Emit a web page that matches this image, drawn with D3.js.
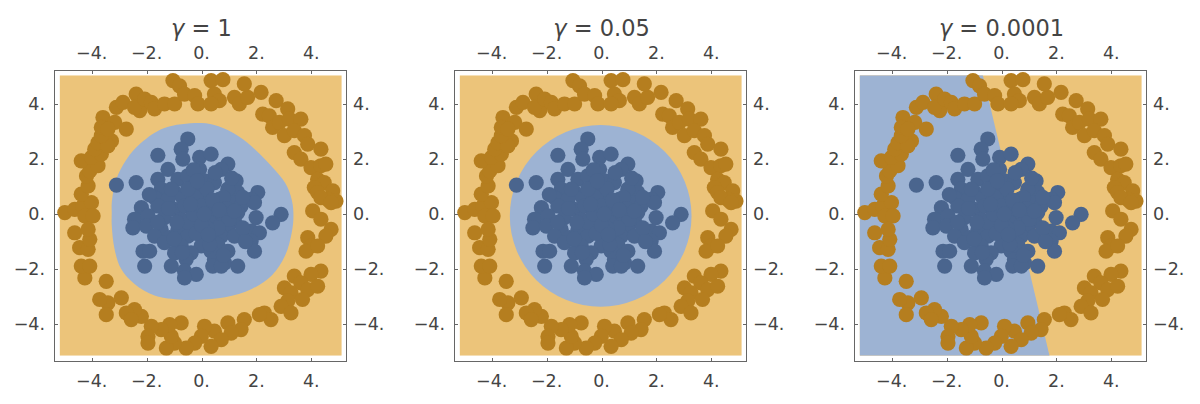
<!DOCTYPE html>
<html><head><meta charset="utf-8">
<script src="https://cdn.jsdelivr.net/npm/d3@7"></script>
<style>
body{margin:0;background:#fff;}
text{font-family:"DejaVu Sans",sans-serif;fill:#444;}
</style></head>
<body><svg id="c" width="1200" height="404"></svg>
<script>
// ---------- data ----------
const titles = ["1", "0.05", "0.0001"];
const tickValues = [-4, -2, 0, 2, 4];
const tickLabels = ["\u22124.", "\u22122.", "0.", "2.", "4."];

const outerX = [-4.98,-4.62,-4.32,-4.01,-4.25,-3.95,-4.62,-4.38,-4.13,-4.19,-4.07,-3.77,-4.38,-4.01,-3.65,-3.89,-3.77,-3.53,-3.28,-3.41,-3.65,-3.59,-3.65,-3.16,-3.41,-2.74,-3.10,-2.86,-2.38,-2.25,-2.44,-2.07,-1.83,-1.71,-1.35,-0.98,-1.04,-0.80,-0.62,-0.25,-0.13,0.35,0.78,0.47,0.65,0.35,1.20,1.38,1.68,1.56,2.17,2.72,2.23,2.47,2.59,2.84,3.14,3.20,3.62,3.02,3.38,3.75,3.87,3.38,3.62,4.35,3.99,4.35,4.53,4.23,4.47,4.78,4.11,4.23,4.59,4.90,4.35,4.72,4.05,4.35,4.72,4.53,3.87,3.99,3.81,4.23,4.35,3.99,3.38,3.62,3.02,3.26,3.87,4.23,3.68,3.14,2.90,2.29,2.53,2.11,3.26,1.56,1.44,0.96,1.08,0.47,0.72,0.35,0.11,-0.01,-0.25,-0.56,-0.98,-1.28,-1.10,-0.74,-1.16,-1.47,-1.83,-1.95,-1.95,-2.19,-2.44,-2.74,-2.56,-2.92,-3.41,-3.71,-3.47,-3.47,-4.25,-4.38,-4.07,-4.44,-4.13,-4.07,-4.13];
const outerY = [0.05,0.17,0.29,0.41,-0.07,-0.07,-0.68,0.72,1.02,1.38,1.56,1.75,1.93,2.05,2.17,2.35,2.59,2.78,2.65,2.47,2.84,3.50,3.14,3.32,3.08,3.08,3.87,4.05,4.35,3.75,3.87,4.17,4.05,3.81,3.99,3.99,4.84,4.65,4.35,4.29,3.99,4.84,4.87,4.35,4.11,3.99,4.23,3.99,4.23,4.72,4.41,4.11,3.62,3.56,3.14,3.32,3.81,3.44,3.44,2.84,3.02,2.84,2.53,2.23,1.99,2.35,1.68,1.75,1.81,1.26,1.14,0.84,0.96,0.78,0.53,0.47,0.59,0.41,0.11,-0.19,-0.56,-0.80,-0.86,-1.16,-1.35,-1.16,-2.07,-2.19,-2.25,-2.50,-2.68,-2.86,-2.74,-2.62,-3.10,-3.16,-3.35,-3.59,-3.83,-3.65,-3.59,-3.83,-4.19,-3.95,-4.32,-4.25,-4.56,-4.80,-4.07,-4.44,-4.68,-4.86,-4.68,-4.86,-4.44,-3.95,-4.01,-4.19,-4.07,-4.44,-4.68,-3.71,-3.47,-3.59,-3.83,-3.04,-3.22,-3.10,-3.65,-2.44,-2.32,-1.89,-1.89,-1.22,-1.28,-0.92,-0.56];

const innerX = [-0.50,-0.74,-1.59,-0.68,-0.07,0.35,-1.22,-0.07,0.96,0.72,-1.59,-2.38,-3.10,-0.86,-0.50,0.11,1.26,-1.47,-0.98,-0.25,0.47,2.05,1.81,1.32,0.96,-1.71,-1.22,-0.68,-0.01,0.65,1.08,1.44,1.93,-2.19,-1.59,-0.98,-0.38,0.23,0.84,1.32,1.99,2.90,2.59,-2.44,-1.95,-1.35,-0.74,-0.01,0.59,1.20,-2.50,-2.01,-1.47,-0.86,-0.25,0.35,0.96,1.81,2.11,-1.71,-1.16,-0.50,0.11,0.72,1.20,1.81,-1.35,-0.74,-0.01,0.59,0.96,1.93,-2.13,-1.89,-0.98,-0.38,0.35,-0.56,0.47,0.84,1.32,-2.07,-1.10,-0.62,-0.19,0.41,0.72,-0.62,0.50,-0.50,0.30,-0.20,0.80,-0.60,1.00,0.20,
  -0.30,0.00,0.40,-0.90,0.60,-0.20,0.20,-0.50,0.90,1.50,-1.20,0.00,0.50,-0.30,1.10,-1.00,0.30,1.50,-0.70,0.80,-1.60,0.10,-0.40,0.65,1.20,-1.10,0.25,-0.15,1.60,-1.90];
const innerY = [2.72,2.35,2.13,1.99,2.05,2.17,1.62,1.62,1.81,1.62,1.26,1.14,1.05,1.26,1.38,1.20,1.20,0.90,0.78,1.02,1.14,0.78,0.53,0.78,0.90,0.59,0.53,0.59,0.65,0.53,0.41,0.29,0.41,0.23,0.29,0.17,0.23,0.29,0.11,0.05,-0.13,-0.01,-0.32,-0.19,-0.07,-0.13,-0.19,-0.13,-0.19,-0.25,-0.50,-0.44,-0.56,-0.56,-0.44,-0.50,-0.56,-0.62,-0.68,-0.80,-0.86,-0.80,-0.86,-0.80,-0.80,-0.98,-1.04,-1.16,-1.16,-1.10,-1.35,-1.35,-1.35,-1.35,-1.41,-1.41,-1.35,-1.65,-1.65,-1.77,-1.89,-1.89,-1.89,-2.07,-2.19,-1.89,-1.89,-2.32,0.10,-0.30,-0.30,0.60,0.60,0.30,-0.20,0.90,
  0.00,0.30,0.50,-0.30,-0.50,-0.70,-0.50,0.90,0.20,-0.50,0.20,-0.40,1.50,1.60,1.30,-0.90,-1.10,0.60,-1.40,-1.50,-0.30,0.00,0.35,0.15,0.10,0.90,-0.75,1.20,-1.00,0.70];

// decision region for gamma = 1 (boundary of inner class)
const blobX = [-0.01,0.62,1.35,1.96,2.56,3.05,3.29,3.35,3.29,3.05,2.56,1.83,0.86,-0.11,-0.74,-1.71,-2.44,-2.93,-3.17,-3.27,-3.27,-3.27,-3.11,-2.74,-2.20,-1.35];
const blobY = [3.30,3.18,2.82,2.33,1.72,1.12,0.51,-0.07,-0.66,-1.50,-2.23,-2.72,-3.02,-3.11,-3.11,-2.96,-2.54,-1.99,-1.26,-0.41,0.07,0.39,1.24,1.97,2.58,3.12];
// gamma = 0.05: circular region
const circleCenter = [-0.03, -0.07];
const circleRadius = 3.31;
// gamma = 0.0001: linear boundary (top point, bottom point)
const lineX = [-0.68, 1.75];
const lineY = [5.03, -5.14];
// plotted data range
const rangeX = [-5.17, 5.11];
const rangeY = [-5.14, 5.03];

// ---------- styles ----------
const C = {
  bgOuter: "#ecc47a", bgInner: "#9db3d3",
  ptOuter: "#b57e1f", ptInner: "#4a658e",
  frame: "#666"
};
const R = 7.6;

const svg = d3.select("#c");

for (let p = 0; p < 3; p++) {
  const dx = 400 * p;
  const x = d3.scaleLinear().domain([-4, 4]).range([91.7 + dx, 311.3 + dx]);
  const y = d3.scaleLinear().domain([-4, 4]).range([324.3, 103.7]);
  const fx0 = 54 + dx, fx1 = 346 + dx, fy0 = 70, fy1 = 361;
  const g = svg.append("g");

  const clipId = "clip" + p;
  g.append("clipPath").attr("id", clipId).append("rect")
    .attr("x", x(rangeX[0])).attr("y", y(rangeY[1]))
    .attr("width", x(rangeX[1]) - x(rangeX[0])).attr("height", y(rangeY[0]) - y(rangeY[1]));

  const bg = g.append("g").attr("clip-path", `url(#${clipId})`);
  bg.append("rect")
    .attr("x", x(rangeX[0])).attr("y", y(rangeY[1]))
    .attr("width", x(rangeX[1]) - x(rangeX[0])).attr("height", y(rangeY[0]) - y(rangeY[1]))
    .attr("fill", C.bgOuter);

  if (p === 0) {
    const pts = blobX.map((v, i) => [x(v), y(blobY[i])]);
    bg.append("path").attr("d", d3.line().curve(d3.curveCatmullRomClosed.alpha(0.5))(pts))
      .attr("fill", C.bgInner);
  } else if (p === 1) {
    bg.append("circle").attr("cx", x(circleCenter[0])).attr("cy", y(circleCenter[1]))
      .attr("r", x(circleRadius) - x(0)).attr("fill", C.bgInner);
  } else {
    const poly = [[x(rangeX[0]), y(lineY[0])], [x(lineX[0]), y(lineY[0])],
                  [x(lineX[1]), y(lineY[1])], [x(rangeX[0]), y(lineY[1])]];
    bg.append("path").attr("d", d3.line()(poly) + "Z").attr("fill", C.bgInner);
  }

  // points
  g.append("g").selectAll("circle").data(outerX.map((v, i) => [v, outerY[i]])).join("circle")
    .attr("cx", d => x(d[0])).attr("cy", d => y(d[1])).attr("r", R).attr("fill", C.ptOuter);
  g.append("g").selectAll("circle").data(innerX.map((v, i) => [v, innerY[i]])).join("circle")
    .attr("cx", d => x(d[0])).attr("cy", d => y(d[1])).attr("r", R).attr("fill", C.ptInner);

  // frame
  g.append("rect").attr("x", fx0 + 0.5).attr("y", fy0 + 0.5)
    .attr("width", fx1 - fx0).attr("height", fy1 - fy0)
    .attr("fill", "none").attr("stroke", C.frame).attr("stroke-width", 1);

  // ticks
  const tl = 4;
  tickValues.forEach((t, i) => {
    const px = Math.round(x(t)) + 0.5, py = Math.round(y(t)) + 0.5;
    g.append("line").attr("x1", px).attr("x2", px).attr("y1", fy0).attr("y2", fy0 + tl).attr("stroke", C.frame);
    g.append("line").attr("x1", px).attr("x2", px).attr("y1", fy1 + 1).attr("y2", fy1 + 1 - tl).attr("stroke", C.frame);
    g.append("line").attr("y1", py).attr("y2", py).attr("x1", fx0).attr("x2", fx0 + tl).attr("stroke", C.frame);
    g.append("line").attr("y1", py).attr("y2", py).attr("x1", fx1 + 1).attr("x2", fx1 + 1 - tl).attr("stroke", C.frame);
    // labels
    g.append("text").attr("x", x(t)).attr("y", 59).attr("text-anchor", "middle").attr("font-size", 17.5).text(tickLabels[i]);
    g.append("text").attr("x", x(t)).attr("y", 387).attr("text-anchor", "middle").attr("font-size", 17.5).text(tickLabels[i]);
    g.append("text").attr("x", fx0 - 9).attr("y", y(t) + 6).attr("text-anchor", "end").attr("font-size", 17.5).text(tickLabels[i]);
    g.append("text").attr("x", fx1 + 7).attr("y", y(t) + 6).attr("text-anchor", "start").attr("font-size", 17.5).text(tickLabels[i]);
  });

  // title
  const tt = g.append("text").attr("x", x(0)).attr("y", 36).attr("text-anchor", "middle").attr("font-size", 22.5);
  tt.append("tspan").attr("font-style", "italic").text("\u03b3");
  tt.append("tspan").text(" = " + titles[p]);
}
</script></body></html>
